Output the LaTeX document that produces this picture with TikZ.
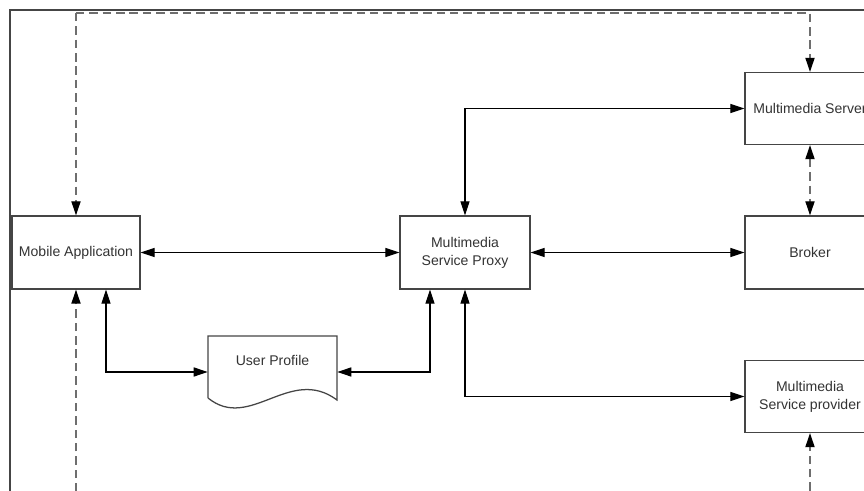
\documentclass[tikz,border=0pt]{standalone}
\usepackage{fontspec}
\setmainfont{Liberation Sans}
\usepackage[HTML]{xcolor}
\usepackage{tikz}
\usetikzlibrary{positioning, arrows.meta}

\definecolor{boxgray}{HTML}{454545}
\definecolor{textgray}{HTML}{333333}
\definecolor{dashgray}{HTML}{6E6E6E}

\begin{document}
\begin{tikzpicture}[x=0.025cm, y=-0.025cm,
  block/.style={draw=boxgray, line width=0.9pt, inner sep=0pt, align=center,
    text=textgray, font=\fontsize{10}{12.8}\selectfont},
  link/.style={line width=0.75pt, {Triangle[length=10pt,width=6.5pt]}-{Triangle[length=10pt,width=6.5pt]}},
  loop/.style={dashgray, line width=1pt, dash pattern=on 6pt off 3.5pt, -{Triangle[length=10pt,width=6.5pt,color=black]}}]
\useasboundingbox (0,0) rectangle (864,491);
% frame
\draw[boxgray, line width=1.3pt] (10,491) -- (10,10) -- (864,10);
% blocks
\node[block, minimum width=3.2cm, minimum height=1.825cm] (mobile) at (76,252.5) {Mobile Application};
\node[block, minimum width=3.25cm, minimum height=1.825cm] (proxy) at (465,252.5) {Multimedia\\Service Proxy};
\node[block, minimum width=3.25cm, minimum height=1.8cm] (server) at (810,108.5) {Multimedia Server};
\node[block, minimum width=3.25cm, minimum height=1.825cm] (broker) at (810,252.5) {Broker};
\node[block, minimum width=3.25cm, minimum height=1.8cm] (provider) at (810,396.5) {Multimedia\\Service provider};
% user profile (document shape)
\node[inner sep=0pt, minimum width=3.225cm, minimum height=1.8cm,
  label={[text=textgray, font=\fontsize{10}{12}\selectfont, yshift=0.28cm]center:User Profile}] (profile) at (272.5,372) {};
\draw[boxgray, line width=0.9pt] (208,398) -- (208,336) -- (337,336) -- (337,400)
  .. controls (290,365) and (250,432) .. (208,398);
% connectors
\draw[link] (mobile) -- (proxy);
\draw[link] (proxy) -- (broker);
\draw[link] (proxy.north) |- (server.west);
\draw[link] (proxy.south) |- (provider.west);
\draw[link] ([xshift=0.75cm]mobile.south) |- (profile.west);
\draw[link] ([xshift=-0.875cm]proxy.south) |- (profile.east);
\draw[loop, {Triangle[length=10pt,width=6.5pt,color=black]}-{Triangle[length=10pt,width=6.5pt,color=black]}] (server) -- (broker);
% dashed loop round the diagram
\coordinate (tl) at (76,13);
\coordinate (tr) at (810,13);
\coordinate (bl) at (76,491.5);
\coordinate (br) at (810,491.5);
\draw[loop] (tl) -- (mobile.north);
\draw[loop] (tl) -- (tr) -- (server.north);
\draw[loop] (bl) -- (mobile.south);
\draw[loop] (bl) -- (br) -- (provider.south);
\end{tikzpicture}
\end{document}
